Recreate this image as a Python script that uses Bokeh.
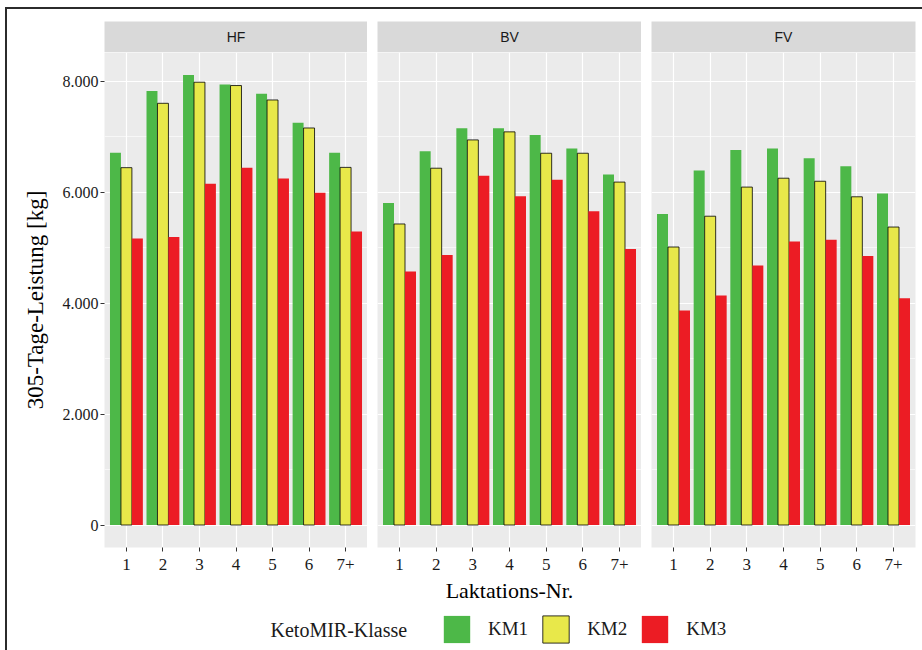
from bokeh.plotting import figure
from bokeh.models import (FactorRange, Range1d, FixedTicker, Label, Legend,
                          LegendItem, ColumnDataSource)
from bokeh.transform import dodge
from bokeh.layouts import column, row
from bokeh.embed import file_html
from bokeh.resources import INLINE

# ---------------- data ----------------
lactations = ["1", "2", "3", "4", "5", "6", "7+"]
breeds = ["HF", "BV", "FV"]
classes = ["KM1", "KM2", "KM3"]
class_colors = ["#4DB848", "#E8E84A", "#EC1C24"]

hf_km1 = [6710, 7820, 8110, 7940, 7770, 7250, 6710]
hf_km2 = [6440, 7600, 7980, 7920, 7660, 7155, 6445]
hf_km3 = [5165, 5190, 6150, 6440, 6245, 5990, 5290]
bv_km1 = [5805, 6735, 7150, 7150, 7030, 6785, 6315]
bv_km2 = [5425, 6430, 6940, 7085, 6700, 6700, 6180]
bv_km3 = [4570, 4865, 6295, 5925, 6220, 5655, 4975]
fv_km1 = [5605, 6390, 6760, 6785, 6610, 6465, 5975]
fv_km2 = [5010, 5565, 6090, 6250, 6195, 5915, 5370]
fv_km3 = [3865, 4135, 4675, 5110, 5140, 4850, 4085]

y_ticks = [0, 2000, 4000, 6000, 8000]
y_tick_labels = ["0", "2.000", "4.000", "6.000", "8.000"]
y_minor_ticks = [1000, 3000, 5000, 7000]

x_title = "Laktations-Nr."
y_title = "305-Tage-Leistung [kg]"
legend_title = "KetoMIR-Klasse"

series = {
    "HF": [hf_km1, hf_km2, hf_km3],
    "BV": [bv_km1, bv_km2, bv_km3],
    "FV": [fv_km1, fv_km2, fv_km3],
}

# ---------------- styling ----------------
SERIF = "Liberation Serif"
SANS = "Liberation Sans"
PANEL_BG = "#EBEBEB"
STRIP_BG = "#D9D9D9"

ymax = max(max(v) for s in series.values() for v in s)
pad = 0.05 * ymax
y_range = Range1d(-pad, ymax + pad)

frame_widths = [263, 264, 264]
left_borders = [97, 10, 10]
right_borders = [0, 0, 7]

cols = []
for i, breed in enumerate(breeds):
    fw = frame_widths[i] + left_borders[i] + right_borders[i]

    # strip header
    s = figure(width=fw, height=43, x_range=Range1d(0, 1), y_range=Range1d(0, 1),
               toolbar_location=None, output_backend="svg",
               x_axis_location=None, y_axis_location=None,
               min_border_left=left_borders[i], min_border_right=right_borders[i],
               min_border_top=12, min_border_bottom=0)
    s.grid.visible = False
    s.background_fill_color = STRIP_BG
    s.border_fill_color = "white"
    s.outline_line_color = None
    s.add_layout(Label(x=0.5, y=0.5, text=breed, text_align="center",
                       text_baseline="middle", text_font=SANS,
                       text_font_size="14px", text_color="#1A1A1A"))

    # panel
    xr = FactorRange(factors=lactations, range_padding=0.1,
                     range_padding_units="absolute")
    p = figure(width=fw, height=553, x_range=xr, y_range=y_range,
               toolbar_location=None, output_backend="svg",
               y_axis_location="left" if i == 0 else None,
               min_border_left=left_borders[i], min_border_right=right_borders[i],
               min_border_top=0, min_border_bottom=58)
    p.background_fill_color = PANEL_BG
    p.border_fill_color = "white"
    p.outline_line_color = None

    data = dict(lakt=lactations)
    for j, c in enumerate(classes):
        data[c] = series[breed][j]
    src = ColumnDataSource(data)
    for j, c in enumerate(classes):
        p.vbar(x=dodge("lakt", (j - 1) * 0.3, range=p.x_range), top=c, bottom=0,
               width=0.3, source=src, fill_color=class_colors[j],
               line_color="black" if j == 1 else None, line_width=0.8)

    p.xgrid.grid_line_color = "white"
    p.xgrid.grid_line_width = 1.2
    p.ygrid.ticker = FixedTicker(ticks=y_ticks, minor_ticks=y_minor_ticks)
    p.ygrid.grid_line_color = "white"
    p.ygrid.grid_line_width = 1.2
    p.ygrid.minor_grid_line_color = "white"
    p.ygrid.minor_grid_line_width = 0.6

    p.xaxis.axis_line_color = None
    p.xaxis.major_tick_in = 0
    p.xaxis.major_tick_out = 4
    p.xaxis.major_tick_line_color = "#333333"
    p.xaxis.major_label_text_font = SERIF
    p.xaxis.major_label_text_font_size = "17px"
    p.xaxis.major_label_text_color = "#1A1A1A"
    p.xaxis.major_label_standoff = 7
    if i == 1:
        p.xaxis.axis_label = x_title
        p.xaxis.axis_label_text_font = SERIF
        p.xaxis.axis_label_text_font_size = "22px"
        p.xaxis.axis_label_text_font_style = "normal"
        p.xaxis.axis_label_text_color = "black"
        p.xaxis.axis_label_standoff = 5

    if i == 0:
        p.yaxis.ticker = FixedTicker(ticks=y_ticks)
        p.yaxis.major_label_overrides = dict(zip(y_ticks, y_tick_labels))
        p.yaxis.axis_line_color = None
        p.yaxis.major_tick_in = 0
        p.yaxis.major_tick_out = 4
        p.yaxis.minor_tick_line_color = None
        p.yaxis.major_tick_line_color = "#333333"
        p.yaxis.major_label_text_font = SERIF
        p.yaxis.major_label_text_font_size = "16px"
        p.yaxis.major_label_text_color = "#1A1A1A"
        p.yaxis.major_label_standoff = 2
        p.yaxis.axis_label = y_title
        p.yaxis.axis_label_text_font = SERIF
        p.yaxis.axis_label_text_font_size = "23px"
        p.yaxis.axis_label_text_font_style = "normal"
        p.yaxis.axis_label_text_color = "black"
        p.yaxis.axis_label_standoff = 12

    cols.append(column(s, p))

# ---------------- legend ----------------
lg = figure(width=915, height=45, x_range=Range1d(0, 1), y_range=Range1d(0, 1),
            toolbar_location=None, output_backend="svg",
            x_axis_location=None, y_axis_location=None, min_border=0)
lg.grid.visible = False
lg.outline_line_color = None
items = []
nan = float("nan")
for j, c in enumerate(classes):
    # legend proxy glyphs (NaN -> nothing drawn in the plot itself)
    r = lg.vbar(x=[nan], top=[nan], width=0.3, fill_color=class_colors[j],
                line_color="black" if j == 1 else None, line_width=0.8)
    items.append(LegendItem(label=c, renderers=[r]))
legend = Legend(items=items, orientation="horizontal", location=(433, 4),
                padding=0, margin=0, spacing=11, label_standoff=15,
                glyph_width=33, glyph_height=34, border_line_color=None,
                background_fill_alpha=0, label_text_font=SERIF,
                label_text_font_size="19px", label_text_color="#1A1A1A")
lg.add_layout(legend)
lg.add_layout(Label(x=263, y=21, x_units="screen", y_units="screen",
                    text=legend_title, text_baseline="middle", text_font=SERIF,
                    text_font_size="20px", text_color="#1A1A1A"))

layout = column(row(*cols), lg,
                styles={"border-top": "2px solid #2b2b2b",
                        "border-left": "2px solid #2b2b2b",
                        "margin-left": "5px", "margin-top": "7px"})

open("out.html", "w").write(file_html(layout, INLINE))
